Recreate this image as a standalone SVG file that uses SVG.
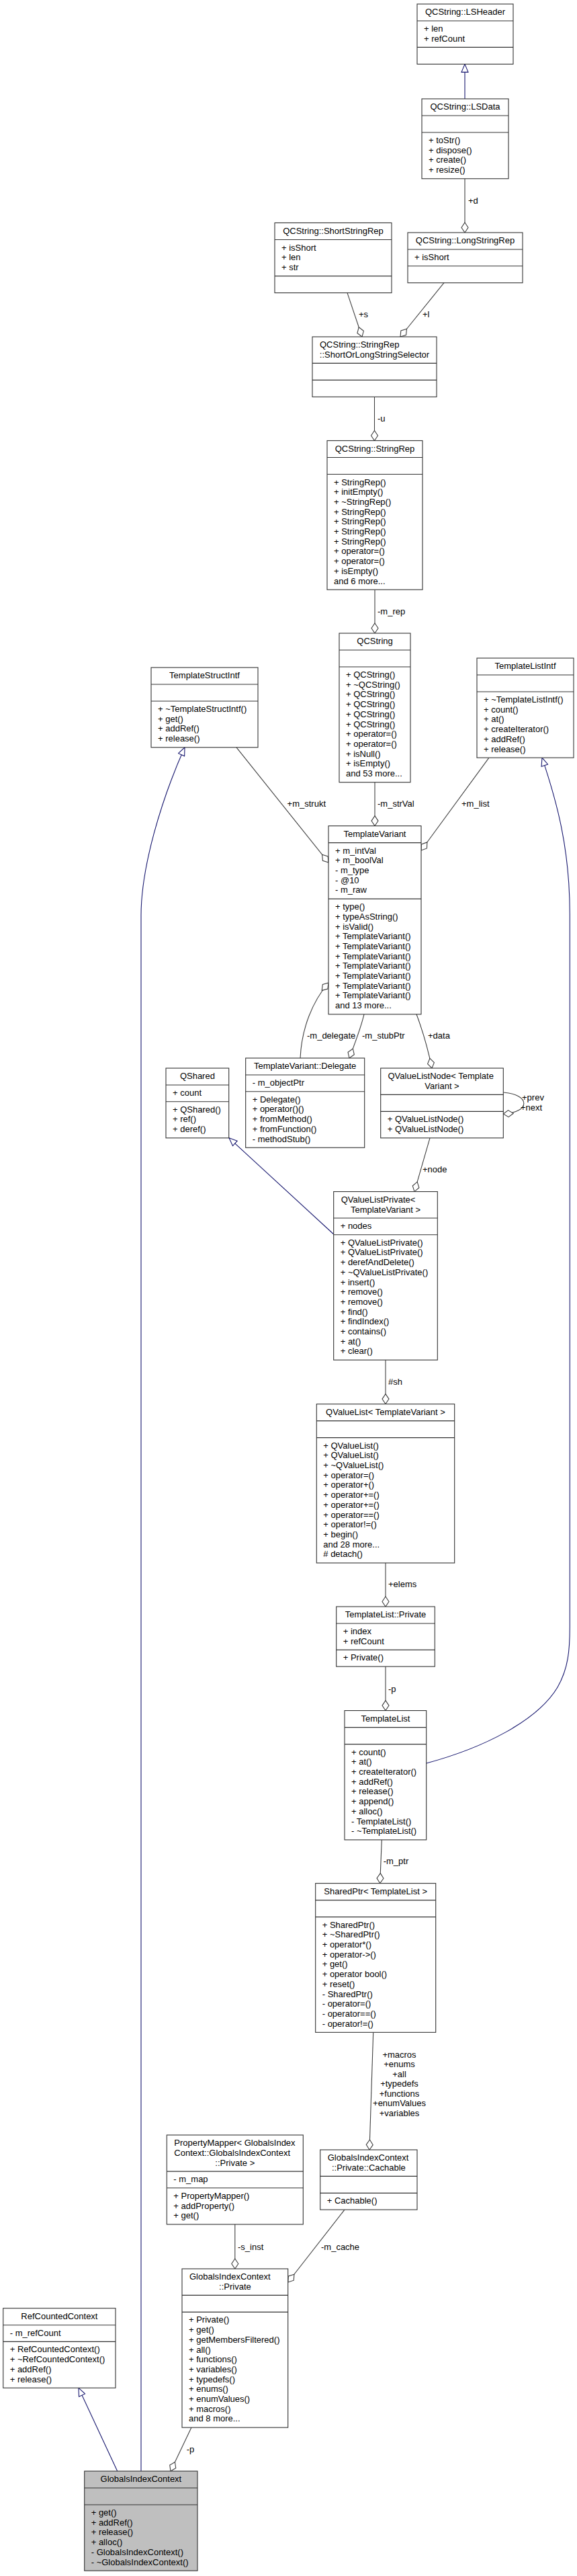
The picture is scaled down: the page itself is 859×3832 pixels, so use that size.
<svg xmlns="http://www.w3.org/2000/svg" width="859" height="3832" viewBox="0 0 859 3832">
<style>
text{font-family:"Liberation Sans",Arial,Helvetica,sans-serif;font-size:13px;fill:#000}
.c{text-anchor:middle}
.box{fill:#fff;stroke:#333;stroke-width:1.1}
.sel{fill:#bfbfbf;stroke:#333;stroke-width:1.1}
.dv{stroke:#333;stroke-width:1.1}
.use{fill:none;stroke:#404040;stroke-width:1.1;marker-end:url(#dia)}
.inh{fill:none;stroke:#191970;stroke-width:1.1;marker-end:url(#tri)}
</style>
<defs>
<marker id="dia" markerUnits="userSpaceOnUse" viewBox="-1 -6 17 12" refX="15" refY="0" markerWidth="17" markerHeight="12" orient="auto"><path d="M0,0 L7.5,-5 L15,0 L7.5,5 Z" fill="#fff" stroke="#404040" stroke-width="1.1"/></marker>
<marker id="tri" markerUnits="userSpaceOnUse" viewBox="-1 -6 14 12" refX="12" refY="0" markerWidth="14" markerHeight="12" orient="auto"><path d="M0,-5 L12,0 L0,5 Z" fill="#fff" stroke="#191970" stroke-width="1.1"/></marker>
</defs>
<rect width="859" height="3832" fill="#fff"/>

<g id="edges">
<path class="inh" d="M692,147 L692,95.4"/>
<path class="use" d="M692,265.8 L692,346"/>
<path class="use" d="M517,435.6 L539,501"/>
<path class="use" d="M661,420.7 L596,501"/>
<path class="use" d="M557.5,590.4 L557.5,655.5"/>
<path class="use" d="M558,877.2 L558,942"/>
<path class="use" d="M558,1163.7 L558,1228.6"/>
<path class="use" d="M352,1111.8 L489,1283"/>
<path class="use" d="M728,1127.2 L627,1265"/>
<path class="use" d="M447,1574 C449,1530 465,1490 489,1462"/>
<path class="use" d="M542,1508.8 C537,1530 530,1548 520,1574"/>
<path class="use" d="M620,1508.8 C628,1530 636,1555 643,1589"/>
<path class="use" d="M749.3,1625 C790,1628 790,1655 749.3,1657"/>
<path class="use" d="M640,1692.8 L617,1772.6"/>
<path class="inh" d="M496.7,1836 L341,1692.8"/>
<path class="use" d="M574,2023.1 L574,2088.6"/>
<path class="use" d="M574,2325 L574,2390"/>
<path class="use" d="M574,2479.1 L574,2544.6"/>
<path class="inh" d="M634.7,2623 C720,2600 800,2560 830,2510 C846,2482 848.3,2455 848.3,2420 L848.3,1360 C848.3,1260 828,1190 807,1127.2"/>
<path class="use" d="M568.3,2736.9 L565.7,2801.6"/>
<path class="use" d="M555.7,3023.3 L550,3198"/>
<path class="use" d="M349.8,3308.9 L349.8,3375"/>
<path class="use" d="M513,3287.1 L428.7,3395"/>
<path class="use" d="M285,3611.1 L254,3676"/>
<path class="inh" d="M174.7,3676 L117,3552.2"/>
<path class="inh" d="M210,3676 L210,1362 C210,1290 240,1190 275,1111.8"/>
<text x="697" y="302.5">+d</text>
<text x="534" y="471.5">+s</text>
<text x="629" y="471.5">+l</text>
<text x="562" y="627">-u</text>
<text x="562" y="914">-m_rep</text>
<text x="562" y="1200">-m_strVal</text>
<text x="687" y="1200">+m_list</text>
<text x="427.6" y="1200">+m_strukt</text>
<text x="457" y="1545">-m_delegate</text>
<text x="539" y="1545">-m_stubPtr</text>
<text x="637" y="1545">+data</text>
<text x="777" y="1636.5">+prev</text>
<text x="775" y="1651.5">+next</text>
<text x="629" y="1743.5">+node</text>
<text x="578" y="2060">#sh</text>
<text x="578" y="2360.5">+elems</text>
<text x="578" y="2516.5">-p</text>
<text x="570.7" y="2773">-m_ptr</text>
<text class="c" x="594.5" y="3060.5">+macros</text>
<text class="c" x="594.5" y="3075">+enums</text>
<text class="c" x="594.5" y="3089.5">+all</text>
<text class="c" x="594.5" y="3104">+typedefs</text>
<text class="c" x="594.5" y="3118.5">+functions</text>
<text class="c" x="594.5" y="3133">+enumValues</text>
<text class="c" x="594.5" y="3148">+variables</text>
<text x="354" y="3346.5">-s_inst</text>
<text x="478" y="3346.5">-m_cache</text>
<text x="277.7" y="3647.5">-p</text>
</g>

<g id="n_lsheader">
<rect class="box" x="621" y="6" width="143" height="89.4"/>
<line class="dv" x1="621" y1="31" x2="764" y2="31"/>
<line class="dv" x1="621" y1="70.4" x2="764" y2="70.4"/>
<text class="c" x="692.5" y="22.3">QCString::LSHeader</text>
<text x="631" y="47">+ len</text>
<text x="631" y="61.7">+ refCount</text>
</g>

<g id="n_lsdata">
<rect class="box" x="628" y="147" width="129" height="118.8"/>
<line class="dv" x1="628" y1="172" x2="757" y2="172"/>
<line class="dv" x1="628" y1="197" x2="757" y2="197"/>
<text class="c" x="692.5" y="163.3">QCString::LSData</text>
<text x="638" y="213">+ toStr()</text>
<text x="638" y="227.7">+ dispose()</text>
<text x="638" y="242.4">+ create()</text>
<text x="638" y="257.1">+ resize()</text>
</g>

<g id="n_shortstringrep">
<rect class="box" x="409" y="331.5" width="174" height="104.1"/>
<line class="dv" x1="409" y1="356.5" x2="583" y2="356.5"/>
<line class="dv" x1="409" y1="410.6" x2="583" y2="410.6"/>
<text class="c" x="496" y="347.8">QCString::ShortStringRep</text>
<text x="419" y="372.5">+ isShort</text>
<text x="419" y="387.2">+ len</text>
<text x="419" y="401.9">+ str</text>
</g>

<g id="n_longstringrep">
<rect class="box" x="607" y="346" width="171" height="74.7"/>
<line class="dv" x1="607" y1="371" x2="778" y2="371"/>
<line class="dv" x1="607" y1="395.7" x2="778" y2="395.7"/>
<text class="c" x="692.5" y="362.3">QCString::LongStringRep</text>
<text x="617" y="387">+ isShort</text>
</g>

<g id="n_selector">
<rect class="box" x="465" y="501" width="185" height="89.4"/>
<line class="dv" x1="465" y1="540.4" x2="650" y2="540.4"/>
<line class="dv" x1="465" y1="565.4" x2="650" y2="565.4"/>
<text x="476" y="517.3">QCString::StringRep</text>
<text class="c" x="557.5" y="532">::ShortOrLongStringSelector</text>
</g>

<g id="n_stringrep">
<rect class="box" x="487" y="655.5" width="142" height="221.7"/>
<line class="dv" x1="487" y1="680.5" x2="629" y2="680.5"/>
<line class="dv" x1="487" y1="705.5" x2="629" y2="705.5"/>
<text class="c" x="558" y="671.8">QCString::StringRep</text>
<text x="497" y="721.5">+ StringRep()</text>
<text x="497" y="736.2">+ initEmpty()</text>
<text x="497" y="750.9">+ ~StringRep()</text>
<text x="497" y="765.6">+ StringRep()</text>
<text x="497" y="780.3">+ StringRep()</text>
<text x="497" y="795">+ StringRep()</text>
<text x="497" y="809.7">+ StringRep()</text>
<text x="497" y="824.4">+ operator=()</text>
<text x="497" y="839.1">+ operator=()</text>
<text x="497" y="853.8">+ isEmpty()</text>
<text x="497" y="868.5">and 6 more...</text>
</g>

<g id="n_qcstring">
<rect class="box" x="505" y="942" width="106" height="221.7"/>
<line class="dv" x1="505" y1="967" x2="611" y2="967"/>
<line class="dv" x1="505" y1="992" x2="611" y2="992"/>
<text class="c" x="558" y="958.3">QCString</text>
<text x="515" y="1008">+ QCString()</text>
<text x="515" y="1022.7">+ ~QCString()</text>
<text x="515" y="1037.4">+ QCString()</text>
<text x="515" y="1052.1">+ QCString()</text>
<text x="515" y="1066.8">+ QCString()</text>
<text x="515" y="1081.5">+ QCString()</text>
<text x="515" y="1096.2">+ operator=()</text>
<text x="515" y="1110.9">+ operator=()</text>
<text x="515" y="1125.6">+ isNull()</text>
<text x="515" y="1140.3">+ isEmpty()</text>
<text x="515" y="1155">and 53 more...</text>
</g>

<g id="n_templatestructintf">
<rect class="box" x="225" y="993" width="159" height="118.8"/>
<line class="dv" x1="225" y1="1018" x2="384" y2="1018"/>
<line class="dv" x1="225" y1="1043" x2="384" y2="1043"/>
<text class="c" x="304.5" y="1009.3">TemplateStructIntf</text>
<text x="235" y="1059">+ ~TemplateStructIntf()</text>
<text x="235" y="1073.7">+ get()</text>
<text x="235" y="1088.4">+ addRef()</text>
<text x="235" y="1103.1">+ release()</text>
</g>

<g id="n_templatelistintf">
<rect class="box" x="710" y="979" width="144" height="148.2"/>
<line class="dv" x1="710" y1="1004" x2="854" y2="1004"/>
<line class="dv" x1="710" y1="1029" x2="854" y2="1029"/>
<text class="c" x="782" y="995.3">TemplateListIntf</text>
<text x="720" y="1045">+ ~TemplateListIntf()</text>
<text x="720" y="1059.7">+ count()</text>
<text x="720" y="1074.4">+ at()</text>
<text x="720" y="1089.1">+ createIterator()</text>
<text x="720" y="1103.8">+ addRef()</text>
<text x="720" y="1118.5">+ release()</text>
</g>

<g id="n_templatevariant">
<rect class="box" x="489" y="1228.6" width="138" height="280.2"/>
<line class="dv" x1="489" y1="1253.6" x2="627" y2="1253.6"/>
<line class="dv" x1="489" y1="1337.1" x2="627" y2="1337.1"/>
<text class="c" x="558" y="1244.9">TemplateVariant</text>
<text x="499" y="1269.6">+ m_intVal</text>
<text x="499" y="1284.3">+ m_boolVal</text>
<text x="499" y="1299">- m_type</text>
<text x="499" y="1313.7">- @10</text>
<text x="499" y="1328.4">- m_raw</text>
<text x="499" y="1353.1">+ type()</text>
<text x="499" y="1367.8">+ typeAsString()</text>
<text x="499" y="1382.5">+ isValid()</text>
<text x="499" y="1397.2">+ TemplateVariant()</text>
<text x="499" y="1411.9">+ TemplateVariant()</text>
<text x="499" y="1426.6">+ TemplateVariant()</text>
<text x="499" y="1441.3">+ TemplateVariant()</text>
<text x="499" y="1456">+ TemplateVariant()</text>
<text x="499" y="1470.7">+ TemplateVariant()</text>
<text x="499" y="1485.4">+ TemplateVariant()</text>
<text x="499" y="1500.1">and 13 more...</text>
</g>

<g id="n_delegate">
<rect class="box" x="365.7" y="1574" width="177" height="133.2"/>
<line class="dv" x1="365.7" y1="1599" x2="542.7" y2="1599"/>
<line class="dv" x1="365.7" y1="1623.7" x2="542.7" y2="1623.7"/>
<text class="c" x="454.2" y="1590.3">TemplateVariant::Delegate</text>
<text x="375.7" y="1615">- m_objectPtr</text>
<text x="375.7" y="1639.7">+ Delegate()</text>
<text x="375.7" y="1654.4">+ operator()()</text>
<text x="375.7" y="1669.1">+ fromMethod()</text>
<text x="375.7" y="1683.8">+ fromFunction()</text>
<text x="375.7" y="1698.5">- methodStub()</text>
</g>

<g id="n_qshared">
<rect class="box" x="247" y="1589" width="93.7" height="103.8"/>
<line class="dv" x1="247" y1="1614" x2="340.7" y2="1614"/>
<line class="dv" x1="247" y1="1638.7" x2="340.7" y2="1638.7"/>
<text class="c" x="293.9" y="1605.3">QShared</text>
<text x="257" y="1630">+ count</text>
<text x="257" y="1654.7">+ QShared()</text>
<text x="257" y="1669.4">+ ref()</text>
<text x="257" y="1684.1">+ deref()</text>
</g>

<g id="n_qvaluelistnode">
<rect class="box" x="566.7" y="1589" width="182.6" height="103.8"/>
<line class="dv" x1="566.7" y1="1628.4" x2="749.3" y2="1628.4"/>
<line class="dv" x1="566.7" y1="1653.4" x2="749.3" y2="1653.4"/>
<text x="577.5" y="1605.3">QValueListNode&lt; Template</text>
<text class="c" x="658" y="1620">Variant &gt;</text>
<text x="576.7" y="1669.4">+ QValueListNode()</text>
<text x="576.7" y="1684.1">+ QValueListNode()</text>
</g>

<g id="n_qvaluelistprivate">
<rect class="box" x="496.7" y="1772.6" width="154.6" height="250.5"/>
<line class="dv" x1="496.7" y1="1812" x2="651.3" y2="1812"/>
<line class="dv" x1="496.7" y1="1836.7" x2="651.3" y2="1836.7"/>
<text x="507.7" y="1788.9">QValueListPrivate&lt;</text>
<text class="c" x="574" y="1803.6">TemplateVariant &gt;</text>
<text x="506.7" y="1828">+ nodes</text>
<text x="506.7" y="1852.7">+ QValueListPrivate()</text>
<text x="506.7" y="1867.4">+ QValueListPrivate()</text>
<text x="506.7" y="1882.1">+ derefAndDelete()</text>
<text x="506.7" y="1896.8">+ ~QValueListPrivate()</text>
<text x="506.7" y="1911.5">+ insert()</text>
<text x="506.7" y="1926.2">+ remove()</text>
<text x="506.7" y="1940.9">+ remove()</text>
<text x="506.7" y="1955.6">+ find()</text>
<text x="506.7" y="1970.3">+ findIndex()</text>
<text x="506.7" y="1985">+ contains()</text>
<text x="506.7" y="1999.7">+ at()</text>
<text x="506.7" y="2014.4">+ clear()</text>
</g>

<g id="n_qvaluelist">
<rect class="box" x="471.3" y="2088.6" width="205.4" height="236.4"/>
<line class="dv" x1="471.3" y1="2113.6" x2="676.7" y2="2113.6"/>
<line class="dv" x1="471.3" y1="2138.6" x2="676.7" y2="2138.6"/>
<text class="c" x="574" y="2104.9">QValueList&lt; TemplateVariant &gt;</text>
<text x="481.3" y="2154.6">+ QValueList()</text>
<text x="481.3" y="2169.3">+ QValueList()</text>
<text x="481.3" y="2184">+ ~QValueList()</text>
<text x="481.3" y="2198.7">+ operator=()</text>
<text x="481.3" y="2213.4">+ operator+()</text>
<text x="481.3" y="2228.1">+ operator+=()</text>
<text x="481.3" y="2242.8">+ operator+=()</text>
<text x="481.3" y="2257.5">+ operator==()</text>
<text x="481.3" y="2272.2">+ operator!=()</text>
<text x="481.3" y="2286.9">+ begin()</text>
<text x="481.3" y="2301.6">and 28 more...</text>
<text x="481.3" y="2316.3"># detach()</text>
</g>

<g id="n_templatelist_private">
<rect class="box" x="500.7" y="2390" width="146.6" height="89.1"/>
<line class="dv" x1="500.7" y1="2415" x2="647.3" y2="2415"/>
<line class="dv" x1="500.7" y1="2454.4" x2="647.3" y2="2454.4"/>
<text class="c" x="574" y="2406.3">TemplateList::Private</text>
<text x="510.7" y="2431">+ index</text>
<text x="510.7" y="2445.7">+ refCount</text>
<text x="510.7" y="2470.4">+ Private()</text>
</g>

<g id="n_templatelist">
<rect class="box" x="513" y="2544.6" width="121.7" height="192.3"/>
<line class="dv" x1="513" y1="2569.6" x2="634.7" y2="2569.6"/>
<line class="dv" x1="513" y1="2594.6" x2="634.7" y2="2594.6"/>
<text class="c" x="573.9" y="2560.9">TemplateList</text>
<text x="523" y="2610.6">+ count()</text>
<text x="523" y="2625.3">+ at()</text>
<text x="523" y="2640">+ createIterator()</text>
<text x="523" y="2654.7">+ addRef()</text>
<text x="523" y="2669.4">+ release()</text>
<text x="523" y="2684.1">+ append()</text>
<text x="523" y="2698.8">+ alloc()</text>
<text x="523" y="2713.5">- TemplateList()</text>
<text x="523" y="2728.2">- ~TemplateList()</text>
</g>

<g id="n_sharedptr">
<rect class="box" x="469.7" y="2801.6" width="179" height="221.7"/>
<line class="dv" x1="469.7" y1="2826.6" x2="648.7" y2="2826.6"/>
<line class="dv" x1="469.7" y1="2851.6" x2="648.7" y2="2851.6"/>
<text class="c" x="559.2" y="2817.9">SharedPtr&lt; TemplateList &gt;</text>
<text x="479.7" y="2867.6">+ SharedPtr()</text>
<text x="479.7" y="2882.3">+ ~SharedPtr()</text>
<text x="479.7" y="2897">+ operator*()</text>
<text x="479.7" y="2911.7">+ operator-&gt;()</text>
<text x="479.7" y="2926.4">+ get()</text>
<text x="479.7" y="2941.1">+ operator bool()</text>
<text x="479.7" y="2955.8">+ reset()</text>
<text x="479.7" y="2970.5">- SharedPtr()</text>
<text x="479.7" y="2985.2">- operator=()</text>
<text x="479.7" y="2999.9">- operator==()</text>
<text x="479.7" y="3014.6">- operator!=()</text>
</g>

<g id="n_propertymapper">
<rect class="box" x="248.3" y="3176" width="203" height="132.9"/>
<line class="dv" x1="248.3" y1="3230.1" x2="451.3" y2="3230.1"/>
<line class="dv" x1="248.3" y1="3254.8" x2="451.3" y2="3254.8"/>
<text x="259.3" y="3192.3">PropertyMapper&lt; GlobalsIndex</text>
<text x="259.3" y="3207">Context::GlobalsIndexContext</text>
<text class="c" x="349.8" y="3221.7">::Private &gt;</text>
<text x="258.3" y="3246.1">- m_map</text>
<text x="258.3" y="3270.8">+ PropertyMapper()</text>
<text x="258.3" y="3285.5">+ addProperty()</text>
<text x="258.3" y="3300.2">+ get()</text>
</g>

<g id="n_cachable">
<rect class="box" x="476.7" y="3198" width="144.3" height="89.1"/>
<line class="dv" x1="476.7" y1="3237.4" x2="621" y2="3237.4"/>
<line class="dv" x1="476.7" y1="3262.4" x2="621" y2="3262.4"/>
<text x="487.7" y="3214.3">GlobalsIndexContext</text>
<text class="c" x="548.9" y="3229">::Private::Cachable</text>
<text x="486.7" y="3278.4">+ Cachable()</text>
</g>

<g id="n_gic_private">
<rect class="box" x="271" y="3375" width="157.7" height="236.1"/>
<line class="dv" x1="271" y1="3414.4" x2="428.7" y2="3414.4"/>
<line class="dv" x1="271" y1="3439.4" x2="428.7" y2="3439.4"/>
<text x="282" y="3391.3">GlobalsIndexContext</text>
<text class="c" x="349.9" y="3406">::Private</text>
<text x="281" y="3455.4">+ Private()</text>
<text x="281" y="3470.1">+ get()</text>
<text x="281" y="3484.8">+ getMembersFiltered()</text>
<text x="281" y="3499.5">+ all()</text>
<text x="281" y="3514.2">+ functions()</text>
<text x="281" y="3528.9">+ variables()</text>
<text x="281" y="3543.6">+ typedefs()</text>
<text x="281" y="3558.3">+ enums()</text>
<text x="281" y="3573">+ enumValues()</text>
<text x="281" y="3587.7">+ macros()</text>
<text x="281" y="3602.4">and 8 more...</text>
</g>

<g id="n_refcountedcontext">
<rect class="box" x="4.7" y="3433.7" width="167.3" height="118.5"/>
<line class="dv" x1="4.7" y1="3458.7" x2="172" y2="3458.7"/>
<line class="dv" x1="4.7" y1="3483.4" x2="172" y2="3483.4"/>
<text class="c" x="88.4" y="3450">RefCountedContext</text>
<text x="14.7" y="3474.7">- m_refCount</text>
<text x="14.7" y="3499.4">+ RefCountedContext()</text>
<text x="14.7" y="3514.1">+ ~RefCountedContext()</text>
<text x="14.7" y="3528.8">+ addRef()</text>
<text x="14.7" y="3543.5">+ release()</text>
</g>

<g id="n_globalsindexcontext">
<rect class="sel" x="125.7" y="3676" width="168.3" height="148.2"/>
<line class="dv" x1="125.7" y1="3701" x2="294" y2="3701"/>
<line class="dv" x1="125.7" y1="3726" x2="294" y2="3726"/>
<text class="c" x="209.9" y="3692.3">GlobalsIndexContext</text>
<text x="135.7" y="3742">+ get()</text>
<text x="135.7" y="3756.7">+ addRef()</text>
<text x="135.7" y="3771.4">+ release()</text>
<text x="135.7" y="3786.1">+ alloc()</text>
<text x="135.7" y="3800.8">- GlobalsIndexContext()</text>
<text x="135.7" y="3815.5">- ~GlobalsIndexContext()</text>
</g>
</svg>
